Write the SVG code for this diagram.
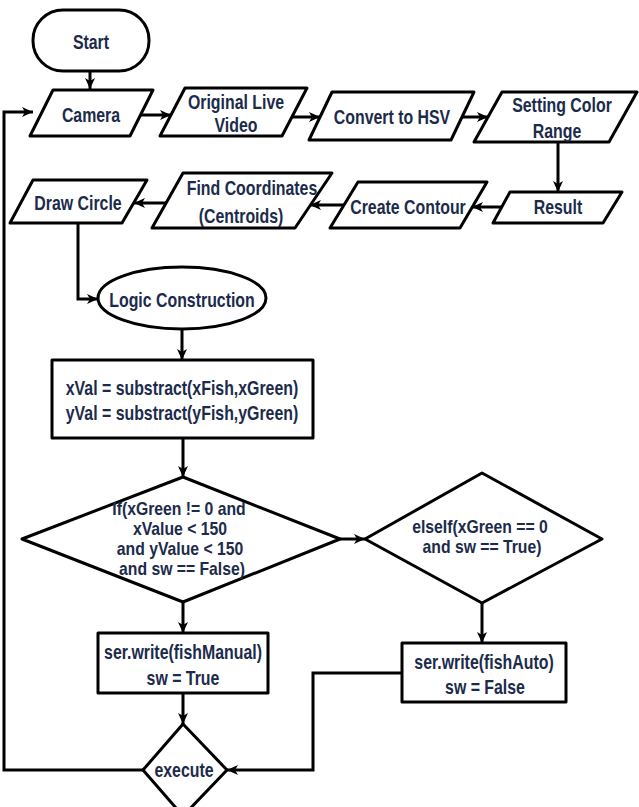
<svg xmlns="http://www.w3.org/2000/svg" width="639" height="807" viewBox="0 0 639 807">
<defs>
<marker id="ah" markerUnits="userSpaceOnUse" markerWidth="12" markerHeight="10" refX="11" refY="5" orient="auto">
<path d="M0,0 L11,5 L0,10 L3,5 Z" fill="#000"/>
</marker>
<style>
.s{fill:#fff;stroke:#000;stroke-width:3;stroke-linejoin:round}
.c{fill:none;stroke:#000;stroke-width:3;marker-end:url(#ah)}
text{font-family:"Liberation Sans",Arial,sans-serif;font-weight:bold;font-size:19.5px;fill:#1c2b4b;text-anchor:middle;dominant-baseline:central}
text.d{font-size:17.5px}
</style>
</defs>
<rect width="639" height="807" fill="#fff"/>
<g id="connectors">
<path class="c" d="M90,71 V89"/>
<path class="c" d="M140,115 H171"/>
<path class="c" d="M292,117 H320"/>
<path class="c" d="M462,117 H488"/>
<path class="c" d="M558,142 V192"/>
<path class="c" d="M502,207 H472"/>
<path class="c" d="M344,205 H310"/>
<path class="c" d="M166,203 H134"/>
<path class="c" d="M78,223 V299 H98"/>
<path class="c" d="M182,330 V360"/>
<path class="c" d="M183,438 V477"/>
<path class="c" d="M340,539 H365"/>
<path class="c" d="M183,602 V633"/>
<path class="c" d="M482,603 V643"/>
<path class="c" d="M183,693 V724"/>
<path class="c" d="M402,673 H313 V770 H227"/>
<path class="c" d="M143,770 H4 V112 H33"/>
</g>
<g id="start">
<rect class="s" x="33" y="10" width="116" height="61" rx="30"/>
<text transform="translate(91 42) scale(.815 1)">Start</text>
</g>
<g id="camera">
<path class="s" d="M53,90 H153 L130,136 H30 Z"/>
<text transform="translate(91 115) scale(.815 1)">Camera</text>
</g>
<g id="original">
<path class="s" d="M185,88 H307 L282,136 H160 Z"/>
<text transform="translate(236 102) scale(.815 1)">Original Live</text>
<text transform="translate(236 125) scale(.815 1)">Video</text>
</g>
<g id="hsv">
<path class="s" d="M332,92 H474 L451,140 H309 Z"/>
<text transform="translate(392 117) scale(.815 1)">Convert to HSV</text>
</g>
<g id="range">
<path class="s" d="M502,92 H637 L609,142 H474 Z"/>
<text transform="translate(562 105) scale(.815 1)">Setting Color</text>
<text transform="translate(557 131) scale(.815 1)">Range</text>
</g>
<g id="result">
<path class="s" d="M510,192 H622 L603,223 H493 Z"/>
<text transform="translate(558 207) scale(.815 1)">Result</text>
</g>
<g id="contour">
<path class="s" d="M358,182 H487 L460,228 H330 Z"/>
<text transform="translate(408 207) scale(.815 1)">Create Contour</text>
</g>
<g id="coords">
<path class="s" d="M183,173 H332 L295,228 H152 Z"/>
<text transform="translate(252 188) scale(.815 1)">Find Coordinates</text>
<text transform="translate(241 216) scale(.815 1)">(Centroids)</text>
</g>
<g id="circle">
<path class="s" d="M33,180 H147 L122,223 H10 Z"/>
<text transform="translate(78 203) scale(.815 1)">Draw Circle</text>
</g>
<g id="logic">
<ellipse class="s" cx="182" cy="298" rx="84" ry="31"/>
<text transform="translate(182 300) scale(.815 1)">Logic Construction</text>
</g>
<g id="subtract">
<rect class="s" x="52" y="360" width="261" height="78"/>
<text transform="translate(182 388) scale(.815 1)">xVal = substract(xFish,xGreen)</text>
<text transform="translate(182 413) scale(.815 1)">yVal = substract(yFish,yGreen)</text>
</g>
<g id="cond1">
<path class="s" d="M183,477 L340,539 L183,602 L22,539 Z"/>
<text class="d" transform="translate(179 509) scale(.9 1)">If(xGreen != 0 and</text>
<text class="d" transform="translate(180 529) scale(.9 1)">xValue &lt; 150</text>
<text class="d" transform="translate(180 549) scale(.9 1)">and yValue &lt; 150</text>
<text class="d" transform="translate(182 569) scale(.9 1)">and sw == False)</text>
</g>
<g id="cond2">
<path class="s" d="M482,473 L602,539 L482,603 L365,539 Z"/>
<text class="d" transform="translate(480 527) scale(.9 1)">elseIf(xGreen == 0</text>
<text class="d" transform="translate(482 547) scale(.9 1)">and sw == True)</text>
</g>
<g id="manual">
<rect class="s" x="98" y="633" width="170" height="60"/>
<text transform="translate(183 652) scale(.815 1)">ser.write(fishManual)</text>
<text transform="translate(183 678) scale(.815 1)">sw = True</text>
</g>
<g id="auto">
<rect class="s" x="402" y="643" width="164" height="59"/>
<text transform="translate(484 662) scale(.815 1)">ser.write(fishAuto)</text>
<text transform="translate(485 687) scale(.815 1)">sw = False</text>
</g>
<g id="execute">
<path class="s" d="M183,724 L227,770 L183,816 L143,770 Z"/>
<text transform="translate(184 770) scale(.815 1)">execute</text>
</g>
</svg>
